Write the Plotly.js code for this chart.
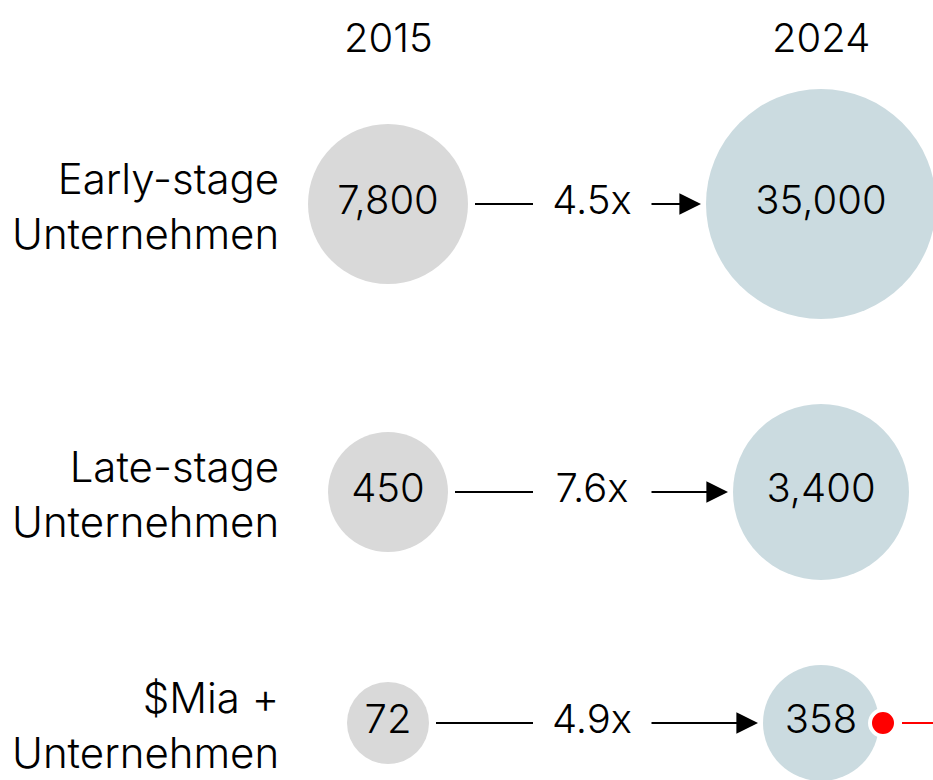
<!DOCTYPE html>
<html>
<head>
<meta charset="utf-8">
<script src="https://cdn.plot.ly/plotly-3.0.1.min.js"></script>
<style>
html,body{margin:0;padding:0;background:#fff;}
#chart{width:933px;height:780px;}
</style>
</head>
<body>
<div id="chart"></div>
<script>
// ---- data ----
const categories = ["Early-stage<br>Unternehmen", "Late-stage<br>Unternehmen", "$Mia +<br>Unternehmen"];
const years = ["2015", "2024"];
const values2015 = [7800, 450, 72];
const values2024 = [35000, 3400, 358];
const growthLabels = ["4.5x", "7.6x", "4.9x"];

// ---- layout / style constants (pixel space) ----
const W = 933, H = 780;
const colX = [388, 821];
const rowY = [204, 492, 723];
const diam2015 = [160, 120, 82];
const diam2024 = [230, 176, 116];
const FONT = "Inter, 'Liberation Sans', Arial, sans-serif";
const FS = 40;
const FS_LABEL = 42;
const WEIGHT = 300;
const col2015 = "#d9d9d9";
const col2024 = "#cbdbe0";
const INK = "#000000";

const fmt = v => v.toLocaleString("en-US");

const traces = [
  {
    type: "scatter", mode: "markers+text",
    x: rowY.map(() => colX[0]), y: rowY,
    text: values2015.map(fmt), textposition: "middle center",
    textfont: {family: FONT, size: FS, color: INK, weight: WEIGHT},
    marker: {size: diam2015, color: col2015, opacity: 1, line: {width: 0}},
    hoverinfo: "skip", cliponaxis: true
  },
  {
    type: "scatter", mode: "markers+text",
    x: rowY.map(() => colX[1]), y: rowY,
    text: values2024.map(fmt), textposition: "middle center",
    textfont: {family: FONT, size: FS, color: INK, weight: WEIGHT},
    marker: {size: diam2024, color: col2024, opacity: 1, line: {width: 0}},
    hoverinfo: "skip", cliponaxis: true
  },
  {
    type: "scatter", mode: "text",
    x: rowY.map(() => 592), y: rowY,
    text: growthLabels, textposition: "middle center",
    textfont: {family: FONT, size: FS, color: INK, weight: WEIGHT},
    hoverinfo: "skip"
  },
  {
    type: "scatter", mode: "markers",
    x: [883], y: [rowY[2]],
    marker: {size: 26, color: "#ff0000", opacity: 1, line: {width: 4, color: "#ffffff"}},
    hoverinfo: "skip"
  }
];

const shapes = [];
const annotations = [];

// year headers
years.forEach((yr, i) => {
  annotations.push({
    x: colX[i], y: 37, xref: "x", yref: "y", text: yr, showarrow: false,
    xanchor: "center", yanchor: "middle",
    font: {family: FONT, size: FS, color: INK, weight: WEIGHT}
  });
});

categories.forEach((cat, i) => {
  // row label
  annotations.push({
    x: 281, y: rowY[i] + 2, xref: "x", yref: "y", text: cat, showarrow: false,
    xanchor: "right", yanchor: "middle", align: "right",
    font: {family: FONT, size: FS_LABEL, color: INK, weight: WEIGHT}
  });
  // left connector
  const x0 = colX[0] + diam2015[i] / 2 + 7;
  shapes.push({type: "line", xref: "x", yref: "y", x0: x0, x1: 533, y0: rowY[i], y1: rowY[i],
               line: {color: INK, width: 1.8}});
  // arrow
  const tip = colX[1] - diam2024[i] / 2 - 5;
  annotations.push({
    x: tip, y: rowY[i], ax: 650, ay: rowY[i], xref: "x", yref: "y", axref: "x", ayref: "y",
    text: "", showarrow: true, arrowhead: 2, arrowsize: 2.4, arrowwidth: 1.8, arrowcolor: INK
  });
});

// red marker line to the right edge
shapes.push({type: "line", xref: "x", yref: "y", x0: 902, x1: W, y0: rowY[2], y1: rowY[2],
             line: {color: "#ff0000", width: 2}});

const layout = {
  width: W, height: H,
  margin: {l: 0, r: 0, t: 0, b: 0, pad: 0},
  paper_bgcolor: "#ffffff", plot_bgcolor: "#ffffff",
  showlegend: false,
  xaxis: {range: [0, W], visible: false, fixedrange: true},
  yaxis: {range: [H, 0], visible: false, fixedrange: true},
  shapes: shapes,
  annotations: annotations
};

Plotly.newPlot("chart", traces, layout, {staticPlot: true, displayModeBar: false});
</script>
</body>
</html>
